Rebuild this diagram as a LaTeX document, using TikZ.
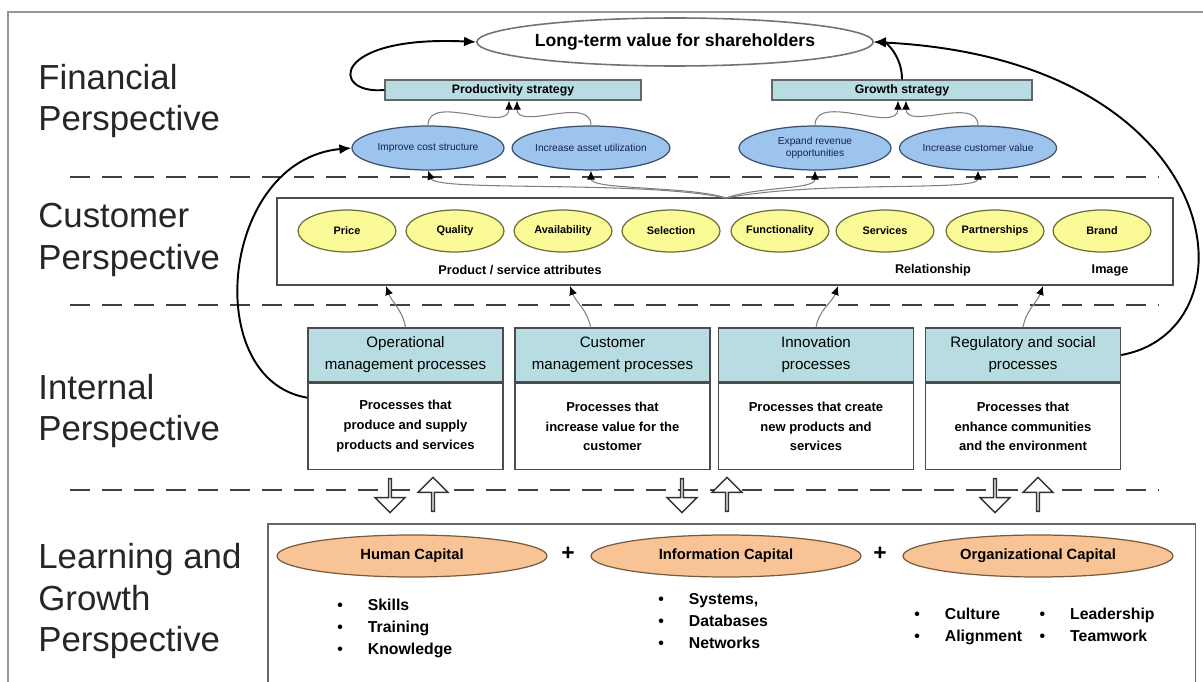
\documentclass[tikz,border=0pt]{standalone}
\usepackage{fontspec}
\setmainfont{Liberation Sans}
\usetikzlibrary{arrows.meta, positioning, shapes.geometric, shapes.arrows}
\definecolor{sfill}{RGB}{183,221,226}
\definecolor{gfill}{RGB}{157,196,236}
\definecolor{gline}{RGB}{60,80,110}
\definecolor{gtext}{RGB}{20,35,80}
\definecolor{yfill}{RGB}{250,250,150}
\definecolor{yline}{RGB}{110,110,60}
\definecolor{ofill}{RGB}{248,196,150}
\definecolor{oline}{RGB}{120,90,60}
\definecolor{framegray}{RGB}{150,150,150}

\begin{document}
\begin{tikzpicture}[
  x=0.02cm, y=-0.02cm,
  persp/.style={anchor=west, align=left, inner sep=0pt, text=black!85,
                font=\fontsize{19.8}{23.8}\selectfont},
  strat/.style={draw=black!60, fill=sfill, line width=0.8pt, minimum height=0.4cm,
                inner sep=0pt, font=\fontsize{7}{8}\selectfont\bfseries},
  goal/.style={ellipse, draw=gline, fill=gfill, line width=0.7pt, minimum width=3.04cm,
               minimum height=0.88cm, inner sep=0pt, align=center, text=gtext,
               font=\fontsize{5.8}{6.8}\selectfont},
  attr/.style={ellipse, draw=yline, fill=yfill, line width=0.7pt, minimum width=1.96cm,
               minimum height=0.84cm, inner sep=0pt, font=\fontsize{6.2}{7}\selectfont\bfseries},
  hdr/.style={draw=black!70, fill=sfill, line width=0.8pt, minimum width=3.9cm,
              minimum height=1.08cm, inner sep=0pt, align=center,
              font=\fontsize{8.6}{12.5}\selectfont},
  body/.style={draw=black!70, fill=white, line width=0.8pt, minimum width=3.9cm,
               minimum height=1.72cm, inner sep=0pt, align=center,
               font=\fontsize{7.4}{11.3}\selectfont\bfseries},
  capital/.style={ellipse, draw=oline, fill=ofill, line width=0.7pt, minimum width=5.4cm,
                  minimum height=0.84cm, inner sep=0pt, font=\fontsize{8.4}{10}\selectfont\bfseries},
  items/.style={anchor=west, align=left, inner sep=0pt, font=\fontsize{9}{12.5}\selectfont\bfseries},
  lbl/.style={inner sep=0pt, font=\fontsize{7.2}{8}\selectfont\bfseries},
  divider/.style={dash pattern=on 0.4cm off 0.24cm, line width=1.3pt, black!75},
  fan/.style={draw=black!50, line width=0.6pt, -{Latex[length=1.8mm, width=1.6mm, color=black]}},
  bigflow/.style={line width=1.1pt, -{Latex[length=2.4mm, width=2mm]}},
  blk/.style={single arrow, draw=black!80, fill=white, line width=0.8pt, minimum height=0.68cm,
              minimum width=0.6cm, single arrow head extend=0.14cm, inner sep=0pt},
]
\path[use as bounding box, fill=white] (0,0) rectangle (1203,682);
\draw[framegray, line width=1.2pt] (1215,12) -- (8,12) -- (8,695);

% perspectives
\node[persp] (fin) at (38,101) {Financial\\Perspective};
\node[persp] (cus) at (38,240) {Customer\\Perspective};
\node[persp] (int) at (38,411) {Internal\\Perspective};
\node[persp] (lrn) at (38,601) {Learning and\\Growth\\Perspective};

\draw[divider] (70,177) -- (1158,177);
\draw[divider] (70,305) -- (1158,305);
\draw[divider] (70,490) -- (1158,490);

% financial
\node[ellipse, draw=black!55, fill=white, line width=0.9pt, minimum width=7.22cm,
      minimum height=0.96cm, inner sep=0pt, font=\fontsize{10}{12}\selectfont\bfseries]
      (value) at (675,42) {Long-term value for shareholders};
\node[strat, minimum width=5.12cm] (prod) at (513,90) {Productivity strategy};
\node[strat, minimum width=5.2cm] (growth) at (902,90) {Growth strategy};
\node[goal] (impr) at (428,148) {Improve cost structure};
\node[goal] (asset) at (591,148) {Increase asset utilization};
\node[goal] (expand) at (815,148) {Expand revenue\\opportunities};
\node[goal] (custval) at (978,148) {Increase customer value};

% customer
\node[draw=black!70, line width=0.8pt, minimum width=17.92cm, minimum height=1.74cm,
      inner sep=0pt] (cust) at (725,241.5) {};
\node[attr] (price) at (347,231) {Price};
\node[attr] (qual) at (455,231) {Quality};
\node[attr] (avail) at (563,231) {Availability};
\node[attr] (sel) at (671,231) {Selection};
\node[attr] (func) at (780,231) {Functionality};
\node[attr] (serv) at (885,231) {Services};
\node[attr] (part) at (995,231) {Partnerships};
\node[attr] (brand) at (1102,231) {Brand};
\node[lbl] (psa) at (520,270) {Product / service attributes};
\node[lbl] (rel) at (933,270) {Relationship};
\node[lbl] (img) at (1110,270) {Image};
\coordinate (fanpt) at (726,198);
\coordinate (a1) at (386,286);
\coordinate (a2) at (570,286);
\coordinate (a3) at (838,286);
\coordinate (a4) at (1043,286);

% internal
\node[hdr] (opH) at (405.5,355) {Operational\\management processes};
\node[body, below=0pt of opH] (opB) {Processes that\\produce and supply\\products and services};
\node[hdr] (cmH) at (612.5,355) {Customer\\management processes};
\node[body, below=0pt of cmH] (cmB) {Processes that\\increase value for the\\customer};
\node[hdr] (inH) at (816,355) {Innovation\\processes};
\node[body, below=0pt of inH] (inB) {Processes that create\\new products and\\services};
\node[hdr] (rgH) at (1023,355) {Regulatory and social\\processes};
\node[body, below=0pt of rgH] (rgB) {Processes that\\enhance communities\\and the environment};

\node[blk, shape border rotate=270] (d1) at (390,495) {};
\node[blk, shape border rotate=90] (u1) at (433,495) {};
\node[blk, shape border rotate=270] (d2) at (682,495) {};
\node[blk, shape border rotate=90] (u2) at (727,495) {};
\node[blk, shape border rotate=270] (d3) at (995,495) {};
\node[blk, shape border rotate=90] (u3) at (1038,495) {};

% learning and growth
\node[draw=black!60, line width=0.9pt, minimum width=18.56cm, minimum height=3.6cm,
      inner sep=0pt, anchor=north west] (lg) at (267,523) {};
\node[capital] (hum) at (412,556) {Human Capital};
\node[capital] (info) at (726,556) {Information Capital};
\node[capital] (org) at (1038,556) {Organizational Capital};
\node[font=\fontsize{13}{14}\selectfont\bfseries] (plus1) at (568,554) {+};
\node[font=\fontsize{13}{14}\selectfont\bfseries] (plus2) at (880,554) {+};
\node[items] (humL) at (337,628) {\begin{tabular}{@{}l@{\hspace{0.5cm}}l@{}}
  •&Skills\\•&Training\\•&Knowledge\end{tabular}};
\node[items] (infoL) at (658,622) {\begin{tabular}{@{}l@{\hspace{0.5cm}}l@{}}
  •&Systems,\\•&Databases\\•&Networks\end{tabular}};
\node[items] (orgL) at (914,626) {\begin{tabular}{@{}l@{\hspace{0.5cm}}l@{\hspace{0.35cm}}l@{\hspace{0.5cm}}l@{}}
  •&Culture&•&Leadership\\•&Alignment&•&Teamwork\end{tabular}};

% connectors
\draw[bigflow] (prod.west) .. controls (330,95) and (330,35) .. (value.west);
\draw[bigflow] (growth.north) .. controls (902,55) and (885,42) .. (value.east);
\draw[bigflow] (rgH.east) .. controls (1260,330) and (1230,60) .. (value.east);
\draw[bigflow] ([yshift=-0.3cm]opB.north west) .. controls (200,380) and (220,160) .. (impr.west);

\draw[fan] (impr.north) to[out=90,in=-90] ([xshift=-0.08cm]prod.south);
\draw[fan] (asset.north) to[out=90,in=-90] ([xshift=0.08cm]prod.south);
\draw[fan] (expand.north) to[out=90,in=-90] ([xshift=-0.08cm]growth.south);
\draw[fan] (custval.north) to[out=90,in=-90] ([xshift=0.08cm]growth.south);

\draw[fan] (fanpt) .. controls (640,180) and (436,192) .. (impr.south);
\draw[fan] (fanpt) .. controls (690,186) and (591,190) .. (asset.south);
\draw[fan] (fanpt) .. controls (760,186) and (815,190) .. (expand.south);
\draw[fan] (fanpt) .. controls (820,180) and (978,192) .. (custval.south);

\draw[fan] (opH.north) to[out=100,in=-70] (a1);
\draw[fan] ([xshift=-0.44cm]cmH.north) to[out=100,in=-70] (a2);
\draw[fan] (inH.north) to[out=80,in=-110] (a3);
\draw[fan] (rgH.north) to[out=80,in=-110] (a4);
\end{tikzpicture}
\end{document}
